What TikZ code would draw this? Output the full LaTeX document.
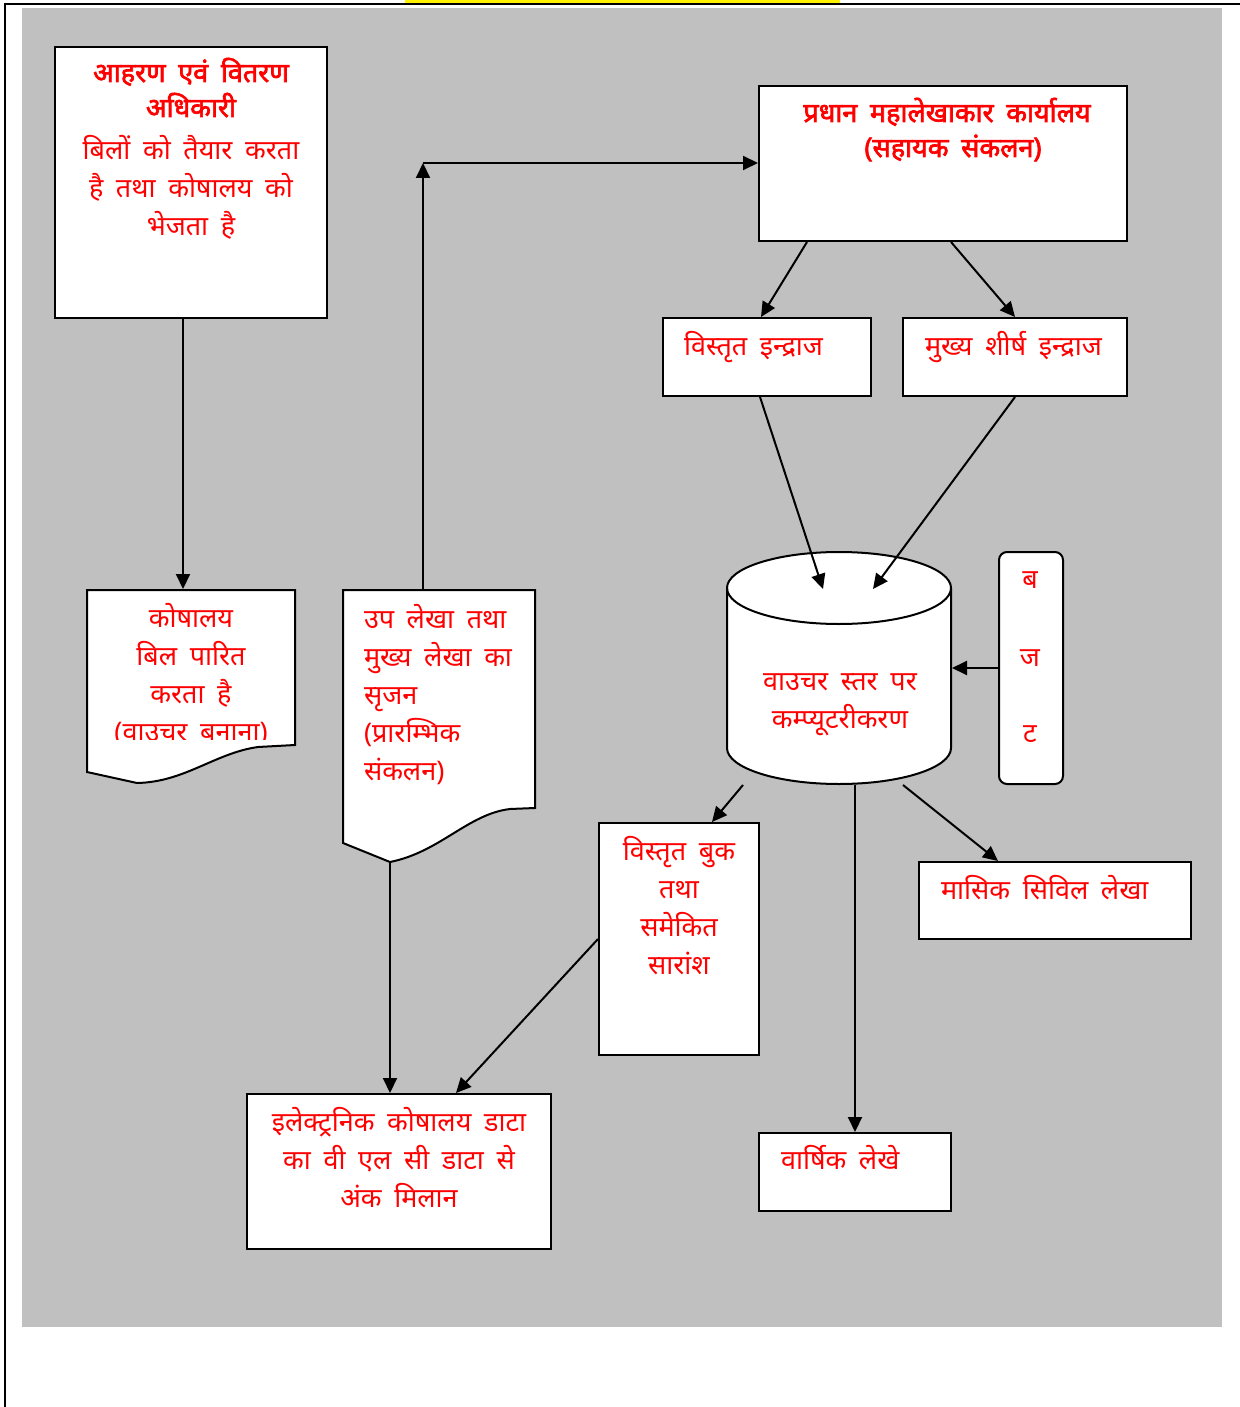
\documentclass[tikz,border=0pt]{standalone}
\usepackage{fontspec}
\newfontfamily\dev[Script=Devanagari,WordSpace=1.8]{Noto Sans}
\newfontfamily\devb[Script=Devanagari,WordSpace=1.8,FakeBold=2.5]{Noto Sans}
\usetikzlibrary{arrows.meta,fit,calc}
\definecolor{bggray}{HTML}{C0C0C0}
\begin{document}
\begin{tikzpicture}[x=0.5pt,y=-0.5pt,line width=1pt,
  box/.style={draw=black,fill=white,inner sep=0pt,line width=1pt},
  area/.style={draw=none,inner sep=0pt},
  txt/.style={text=red,inner sep=0pt,align=center,font=\dev\fontsize{13.5}{19}\selectfont},
  ltxt/.style={txt,align=left},
  btxt/.style={txt,font=\devb\fontsize{13.5}{17.5}\selectfont},
  arr/.style={-{Triangle[length=7.5pt,width=7pt]},line width=1pt}]
\useasboundingbox (0,0) rectangle (1240,1407);
% page frame
\fill[yellow] (405,0) rectangle (840,3);
\draw[line width=1pt] (5,1407) -- (5,4) -- (1240,4);
\fill[bggray] (22,8) rectangle (1222,1327);

% A (text nodes are anchored at the baseline of their last line)
\node[box,fit={(55,47) (327,318)}] (A) {};
\node[btxt,anchor=base] at (191,117) {आहरण एवं वितरण\\अधिकारी};
\node[txt,anchor=base] at (191,235) {बिलों को तैयार करता\\है तथा कोषालय को\\भेजता है};

% D
\node[box,fit={(759,86) (1127,241)}] (D) {};
\node[btxt,anchor=base] at (947,157) {प्रधान महालेखाकार कार्यालय\\\hspace*{6pt}(सहायक संकलन)};

% E, F
\node[box,fit={(663,318) (871,396)}] (E) {};
\node[ltxt,anchor=base west] at (683,355) {विस्तृत इन्द्राज};
\node[box,fit={(903,318) (1127,396)}] (F) {};
\node[ltxt,anchor=base west] at (924,355) {मुख्य शीर्ष इन्द्राज};

% B document
\draw[box] (87,590) -- (295,590) -- (295,745) -- (258,747)
  .. controls (215,753) and (185,782) .. (137,783) -- (87,772) -- cycle;
\node[area,fit={(87,590) (295,783)}] (B) {};
\begin{scope}
\clip (87,590) rectangle (295,739);
\node[txt,anchor=base] at (191,741) {कोषालय\\बिल पारित\\करता है\\(वाउचर बनाना)};
\end{scope}

% C document
\draw[box] (343,590) -- (535,590) -- (535,808) -- (510,809)
  .. controls (468,814) and (440,852) .. (390,862) -- (343,843) -- cycle;
\node[area,fit={(343,590) (535,862)}] (C) {};
\node[ltxt,anchor=base west] at (363,780) {उप लेखा तथा\\मुख्य लेखा का\\सृजन\\(प्रारम्भिक\\संकलन)};

% G cylinder
\filldraw[box] (727,588) -- (727,748) arc[start angle=180,end angle=0,x radius=112,y radius=36]
  -- (951,588) arc[start angle=0,end angle=-180,x radius=112,y radius=36] -- cycle;
\draw[line width=1pt] (727,588) arc[start angle=180,end angle=0,x radius=112,y radius=36];
\node[area,fit={(727,552) (951,784)}] (G) {};
\node[txt,anchor=base] at (840,728) {वाउचर स्तर पर\\कम्प्यूटरीकरण};

% H budget
\draw[box,rounded corners=4pt] (999,552) rectangle (1063,784);
\node[area,fit={(999,552) (1063,784)}] (H) {};
\node[txt,anchor=base] at (1030,588) {ब};
\node[txt,anchor=base] at (1030,666) {ज};
\node[txt,anchor=base] at (1030,742) {ट};

% I
\node[box,fit={(599,823) (759,1055)}] (I) {};
\node[txt,anchor=base] at (679,974) {विस्तृत बुक\\तथा\\समेकित\\सारांश};

% J
\node[box,fit={(919,862) (1191,939)}] (J) {};
\node[ltxt,anchor=base west] at (940,899) {मासिक सिविल लेखा};

% K
\node[box,fit={(759,1133) (951,1211)}] (K) {};
\node[ltxt,anchor=base west] at (780,1169) {वार्षिक लेखे};

% L
\node[box,fit={(247,1094) (551,1249)}] (L) {};
\node[txt,anchor=base] at (399,1207) {इलेक्ट्रनिक कोषालय डाटा\\का वी एल सी डाटा से\\अंक मिलान};

% connectors
\coordinate (Cup) at (423,163);
\coordinate (Gin1) at (823,589);
\coordinate (Gin2) at (873,589);
\draw[arr] (183,0 |- A.south) -- (183,0 |- B.north);
\draw[arr] (423,0 |- C.north) -- (Cup);
\draw[arr] (Cup) -- (D.west |- Cup);
\draw[arr] (390,0 |- C.south) -- (390,0 |- L.north);
\draw[arr] (807,0 |- D.south) -- (761,0 |- E.north);
\draw[arr] (951,0 |- D.south) -- (1015,0 |- F.north);
\draw[arr] (760,0 |- E.south) -- (Gin1);
\draw[arr] (1015,0 |- F.south) -- (Gin2);
\draw[arr] (H.west) -- (G.east |- H.west);
\draw[arr] (743,0 |- G.south) -- (712,0 |- I.north);
\draw[arr] (855,0 |- G.south) -- (855,0 |- K.north);
\draw[arr] (903,0 |- G.south) -- (998,0 |- J.north);
\draw[arr] (I.west) -- (456,0 |- L.north);
\end{tikzpicture}
\end{document}
